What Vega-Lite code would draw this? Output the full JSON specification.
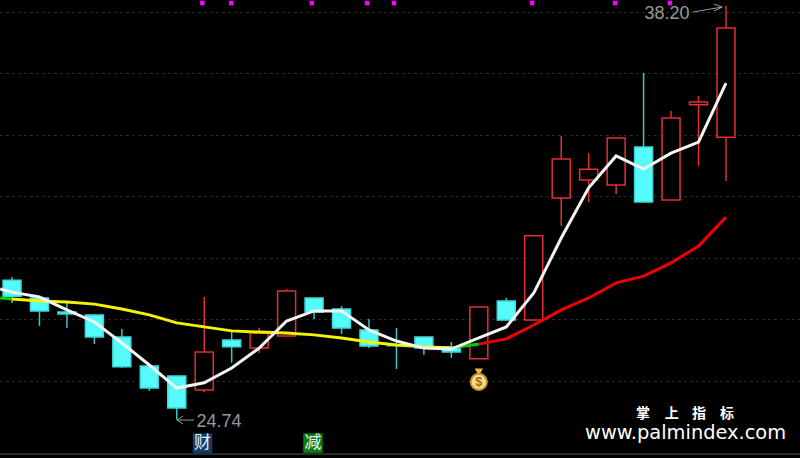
{"$schema":"https://vega.github.io/schema/vega-lite/v6.json","width":800,"height":458,"padding":0,"autosize":"none","background":"#000000","config":{"view":{"stroke":null}},
"resolve":{"scale":{"color":"independent","fill":"independent","stroke":"independent"}},
"datasets":{
"candles":[
{"day":0,"open":29.28,"close":28.76,"high":29.38,"low":28.54,"dir":"down"},
{"day":1,"open":28.70,"close":28.28,"high":28.70,"low":27.79,"dir":"down"},
{"day":2,"open":28.24,"close":28.18,"high":28.57,"low":27.72,"dir":"down"},
{"day":3,"open":28.15,"close":27.43,"high":28.15,"low":27.20,"dir":"down"},
{"day":4,"open":27.43,"close":26.46,"high":27.69,"low":26.42,"dir":"down"},
{"day":5,"open":26.49,"close":25.77,"high":26.49,"low":25.68,"dir":"down"},
{"day":6,"open":26.16,"close":25.12,"high":26.16,"low":24.74,"dir":"down"},
{"day":7,"open":25.71,"close":26.94,"high":28.73,"low":25.64,"dir":"up"},
{"day":8,"open":27.33,"close":27.11,"high":27.59,"low":26.59,"dir":"down"},
{"day":9,"open":27.07,"close":27.56,"high":27.72,"low":26.91,"dir":"up"},
{"day":10,"open":27.46,"close":28.93,"high":28.99,"low":27.46,"dir":"up"},
{"day":11,"open":28.70,"close":28.24,"high":28.70,"low":28.02,"dir":"down"},
{"day":12,"open":28.34,"close":27.72,"high":28.44,"low":27.53,"dir":"down"},
{"day":13,"open":27.66,"close":27.14,"high":28.02,"low":27.07,"dir":"down"},
{"day":14,"open":27.17,"close":27.15,"high":27.72,"low":26.39,"dir":"down"},
{"day":15,"open":27.43,"close":27.07,"high":27.43,"low":26.85,"dir":"down"},
{"day":16,"open":27.11,"close":26.94,"high":27.27,"low":26.75,"dir":"down"},
{"day":17,"open":26.72,"close":28.41,"high":28.41,"low":26.72,"dir":"up"},
{"day":18,"open":28.60,"close":27.98,"high":28.70,"low":27.98,"dir":"down"},
{"day":19,"open":27.98,"close":30.72,"high":30.72,"low":27.98,"dir":"up"},
{"day":20,"open":31.95,"close":33.22,"high":33.97,"low":31.04,"dir":"up"},
{"day":21,"open":32.54,"close":32.89,"high":33.41,"low":31.82,"dir":"up"},
{"day":22,"open":32.37,"close":33.90,"high":33.90,"low":32.08,"dir":"up"},
{"day":23,"open":33.61,"close":31.82,"high":36.02,"low":31.82,"dir":"down"},
{"day":24,"open":31.89,"close":34.55,"high":34.78,"low":31.89,"dir":"up"},
{"day":25,"open":34.98,"close":35.07,"high":35.27,"low":32.99,"dir":"up"},
{"day":26,"open":33.93,"close":37.48,"high":38.20,"low":32.50,"dir":"up"}],
"fast":[
{"day":-0.43,"price":28.99},{"day":0,"price":28.89},{"day":1,"price":28.73},{"day":2,"price":28.31},{"day":3,"price":27.92},{"day":4,"price":27.24},{"day":5,"price":26.52},{"day":6,"price":25.77},{"day":7,"price":25.94},{"day":8,"price":26.42},{"day":9,"price":27.07},{"day":10,"price":27.95},{"day":11,"price":28.28},{"day":12,"price":28.28},{"day":13,"price":27.66},{"day":14,"price":27.30},{"day":15,"price":27.07},{"day":16,"price":27.04},{"day":17,"price":27.40},{"day":18,"price":27.76},{"day":19,"price":28.86},{"day":20,"price":30.65},{"day":21,"price":32.28},{"day":22,"price":33.32},{"day":23,"price":32.89},{"day":24,"price":33.41},{"day":25,"price":33.77},{"day":26,"price":35.69}],
"slow":[
{"day":-0.43,"price":28.70,"state":"green","seg":1},{"day":0,"price":28.67,"state":"green","seg":1},
{"day":0,"price":28.67,"state":"yellow","seg":2},{"day":1,"price":28.60,"state":"yellow","seg":2},{"day":2,"price":28.57,"state":"yellow","seg":2},{"day":3,"price":28.50,"state":"yellow","seg":2},{"day":4,"price":28.34,"state":"yellow","seg":2},{"day":5,"price":28.15,"state":"yellow","seg":2},{"day":6,"price":27.89,"state":"yellow","seg":2},{"day":7,"price":27.76,"state":"yellow","seg":2},{"day":8,"price":27.63,"state":"yellow","seg":2},{"day":9,"price":27.59,"state":"yellow","seg":2},{"day":10,"price":27.56,"state":"yellow","seg":2},{"day":11,"price":27.50,"state":"yellow","seg":2},{"day":12,"price":27.40,"state":"yellow","seg":2},{"day":13,"price":27.27,"state":"yellow","seg":2},{"day":14,"price":27.17,"state":"yellow","seg":2},{"day":15,"price":27.11,"state":"yellow","seg":2},{"day":16,"price":27.07,"state":"yellow","seg":2},
{"day":16,"price":27.07,"state":"green","seg":3},{"day":17,"price":27.20,"state":"green","seg":3},
{"day":17,"price":27.20,"state":"red","seg":4},{"day":18,"price":27.37,"state":"red","seg":4},{"day":19,"price":27.82,"state":"red","seg":4},{"day":20,"price":28.31,"state":"red","seg":4},{"day":21,"price":28.70,"state":"red","seg":4},{"day":22,"price":29.19,"state":"red","seg":4},{"day":23,"price":29.41,"state":"red","seg":4},{"day":24,"price":29.84,"state":"red","seg":4},{"day":25,"price":30.39,"state":"red","seg":4},{"day":26,"price":31.33,"state":"red","seg":4}],
"markers":[{"day":6.93,"price":38.29},{"day":7.98,"price":38.29},{"day":10.92,"price":38.29},{"day":12.93,"price":38.29},{"day":13.91,"price":38.29},{"day":18.94,"price":38.29},{"day":21.96,"price":38.29},{"day":23.96,"price":38.29}],
"arrows":[
{"day":6.01,"price":24.73,"a":"l1","o":1},{"day":6.63,"price":24.73,"a":"l1","o":2},
{"day":6.23,"price":24.86,"a":"l2","o":1},{"day":6.01,"price":24.73,"a":"l2","o":2},{"day":6.23,"price":24.60,"a":"l2","o":3},
{"day":24.80,"price":38.0,"a":"h1","o":1},{"day":25.86,"price":38.16,"a":"h1","o":2},
{"day":25.56,"price":38.26,"a":"h2","o":1},{"day":25.86,"price":38.16,"a":"h2","o":2},{"day":25.56,"price":38.03,"a":"h2","o":3}],
"extremes":[{"day":23.85,"price":37.93,"label":"38.20"},{"day":7.54,"price":24.67,"label":"24.74"}],
"badges":[{"day":6.94,"price":23.98,"label":"财","kind":"cai"},{"day":10.96,"price":23.98,"label":"减","kind":"jian"}],
"bag":[{"day":17,"price":25.97,"label":"$"}],
"knot":[{"day":17,"price":26.29}],
"baseline":[{"price":23.63}],
"brandZh":[{"day":22.98,"price":24.92,"label":"掌"},{"day":24.03,"price":24.92,"label":"上"},{"day":25.02,"price":24.92,"label":"指"},{"day":26.04,"price":24.92,"label":"标"}],
"brandEn":[{"day":24.53,"price":24.30,"label":"www.palmindex.com"}]
},
"encoding":{
"x":{"field":"day","type":"quantitative","scale":{"domain":[-0.437,28.696],"nice":false,"zero":false,"padding":0},"axis":null},
"y":{"field":"price","type":"quantitative","scale":{"domain":[23.496,38.39],"nice":false,"zero":false,"padding":0},"axis":{"values":[26,28,30,32,34,36,38],"grid":true,"gridColor":"#3a3a3a","gridDash":[2,4],"gridWidth":1,"labels":false,"ticks":false,"domain":false,"title":null}}
},
"layer":[
{"data":{"name":"baseline"},"mark":{"type":"rule","color":"#2a2a2a","strokeWidth":2},"encoding":{"x":{"value":0},"x2":{"value":800}}},
{"data":{"name":"candles"},"mark":{"type":"rule","strokeWidth":1.5},"encoding":{"y":{"field":"low","type":"quantitative"},"y2":{"field":"high"},"color":{"field":"dir","type":"nominal","scale":{"domain":["up","down"],"range":["#e03030","#3cc4c8"]},"legend":null}}},
{"data":{"name":"candles"},"mark":{"type":"bar","size":18,"strokeWidth":1.5},"encoding":{"y":{"field":"open","type":"quantitative"},"y2":{"field":"close"},"fill":{"field":"dir","type":"nominal","scale":{"domain":["up","down"],"range":["#000000","#55fbfb"]},"legend":null},"stroke":{"field":"dir","type":"nominal","scale":{"domain":["up","down"],"range":["#e03030","#3fd8d8"]},"legend":null}}},
{"data":{"name":"slow"},"mark":{"type":"line","strokeWidth":3,"interpolate":"linear"},"encoding":{"y":{"field":"price","type":"quantitative"},"detail":{"field":"seg"},"color":{"field":"state","type":"nominal","scale":{"domain":["yellow","green","red"],"range":["#f4f400","#00d000","#f00000"]},"legend":null}}},
{"data":{"name":"fast"},"mark":{"type":"line","color":"#f4f4f4","strokeWidth":3},"encoding":{"y":{"field":"price","type":"quantitative"}}},
{"data":{"name":"markers"},"mark":{"type":"point","shape":"square","filled":true,"color":"#ff00ff","size":20,"opacity":1}},
{"data":{"name":"arrows"},"mark":{"type":"line","color":"#9a9a9a","strokeWidth":1},"encoding":{"detail":{"field":"a"},"order":{"field":"o"}}},
{"data":{"name":"extremes"},"mark":{"type":"text","font":"Liberation Sans","fontSize":18,"color":"#999999","align":"center","baseline":"middle"},"encoding":{"text":{"field":"label"}}},
{"data":{"name":"badges"},"mark":{"type":"point","shape":"square","filled":true,"size":380,"opacity":1},"encoding":{"color":{"field":"kind","type":"nominal","scale":{"domain":["cai","jian"],"range":["#123c6e","#0a7a18"]},"legend":null}}},
{"data":{"name":"badges"},"mark":{"type":"text","font":"Noto Sans CJK SC","fontSize":17,"color":"#e8f0f0","align":"center","baseline":"middle"},"encoding":{"text":{"field":"label"}}},
{"data":{"name":"knot"},"mark":{"type":"point","shape":"triangle-down","filled":true,"color":"#e8b840","size":70,"opacity":1}},
{"data":{"name":"bag"},"mark":{"type":"point","shape":"circle","filled":true,"fill":"#f6e08c","stroke":"#c89530","strokeWidth":2,"size":260,"opacity":1}},
{"data":{"name":"bag"},"mark":{"type":"text","font":"Liberation Sans","fontSize":13,"fontWeight":"bold","color":"#9a6a20","align":"center","baseline":"middle"},"encoding":{"text":{"field":"label"}}},
{"data":{"name":"brandZh"},"mark":{"type":"text","font":"Noto Sans CJK SC","fontSize":14,"fontWeight":"bold","color":"#ffffff","align":"center","baseline":"middle"},"encoding":{"text":{"field":"label"}}},
{"data":{"name":"brandEn"},"mark":{"type":"text","font":"DejaVu Sans","fontSize":19.4,"color":"#ffffff","align":"center","baseline":"middle"},"encoding":{"text":{"field":"label"}}}
]}
